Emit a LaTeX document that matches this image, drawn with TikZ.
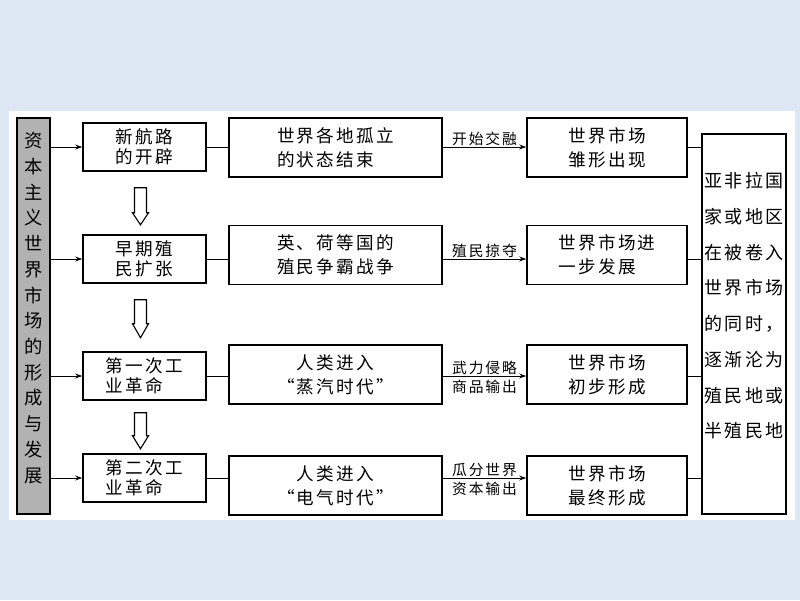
\documentclass[tikz,border=0pt]{standalone}
\usepackage{fontspec}
\setmainfont{Noto Sans CJK SC}[LetterSpace=13]
\usepackage{tikz}
\usetikzlibrary{arrows.meta, calc}

\definecolor{slidebg}{RGB}{221,232,244}

\begin{document}
\begin{tikzpicture}[x=0.025cm, y=-0.025cm,
    % Styles
    topic/.style={rectangle, draw=black, line width=1.1pt, fill=black!30, minimum width=0.825cm, minimum height=9.9cm},
    topictxt/.style={align=center, inner sep=0pt, font=\fontsize{13}{18.3}\selectfont},
    stage/.style={rectangle, draw=black, line width=1.1pt, fill=white, minimum width=3.075cm, minimum height=1.2cm, align=left, inner sep=0pt, font=\fontsize{12.5}{14.4}\selectfont},
    event/.style={rectangle, draw=black, line width=1.1pt, fill=white, minimum width=5.325cm, minimum height=1.475cm, align=left, inner sep=0pt, font=\fontsize{12.5}{17}\selectfont},
    market/.style={rectangle, draw=black, line width=1.1pt, fill=white, minimum width=4cm, minimum height=1.475cm, align=left, inner sep=0pt, font=\fontsize{12.5}{17}\selectfont},
    side/.style={rectangle, draw=black, line width=1.1pt, fill=white, minimum width=2.1cm, minimum height=9.5cm},
    sidetxt/.style={align=left, inner sep=0pt, font=\fontsize{12.8}{25.4}\selectfont},
    tag/.style={inner sep=0.8pt, font=\fontsize{10.5}{13}\selectfont},
    link/.style={line width=0.7pt},
    arrow/.style={line width=0.7pt, -{Stealth[length=5pt, width=3.5pt]}},
    hollow/.style={draw=black, line width=0.8pt, fill=white},
]

% ===== BACKGROUND =====
\fill[slidebg] (0,0) rectangle (800,600);
\fill[white] (9,111) rectangle (795,520);
\useasboundingbox (0,0) rectangle (800,600);

% ===== LEFT TOPIC =====
\node[topic] (topic) at (33.5,316) {};
\node[topictxt] (topictext) at ($(topic.center)+(0,-8)$) {资\\本\\主\\义\\世\\界\\市\\场\\的\\形\\成\\与\\发\\展};

% ===== STAGES =====
\node[stage] (newroute) at (144.5,147) {新航路\\的开辟};
\node[stage] (colony) at (144.5,259) {早期殖\\民扩张};
\node[stage] (ind1) at (144.5,376) {第一次工\\业革命};
\node[stage] (ind2) at (144.5,478) {第二次工\\业革命};

% ===== EVENTS =====
\node[event] (isolate) at (335.5,147.5) {世界各地孤立\\的状态结束};
\node[event] (war) at (335.5,255) {英、荷等国的\\殖民争霸战争};
\node[event, align=center] (steam) at (335.5,374.5) {人类进入\\“蒸汽时代”};
\node[event, align=center] (electric) at (335.5,485.5) {人类进入\\“电气时代”};

% ===== WORLD MARKET =====
\node[market] (embryo) at (607,147.5) {世界市场\\雏形出现};
\node[market] (further) at (607,255) {世界市场进\\一步发展};
\node[market] (initial) at (607,374.5) {世界市场\\初步形成};
\node[market] (final) at (607,485.5) {世界市场\\最终形成};

% ===== RIGHT SIDE =====
\node[side] (side) at (744,324) {};
\node[sidetxt, anchor=north] (sidetext) at ($(side.north)+(0,39)$) {亚非拉国\\家或地区\\在被卷入\\世界市场\\的同时，\\逐渐沦为\\殖民地或\\半殖民地};

% ===== ARROWS =====
% Topic to stages
\draw[arrow] (newroute -| topic.east) -- (newroute.west);
\draw[arrow] (colony -| topic.east) -- (colony.west);
\draw[arrow] (ind1 -| topic.east) -- (ind1.west);
\draw[arrow] (ind2 -| topic.east) -- (ind2.west);

% Stages to events
\draw[link] (newroute.east) -- (newroute -| isolate.west);
\draw[link] (colony.east) -- (colony -| war.west);
\draw[link] (ind1.east) -- (ind1 -| steam.west);
\draw[link] (ind2.east) -- (ind2 -| electric.west);

% Events to world market
\draw[arrow] (newroute -| isolate.east) -- (newroute -| embryo.west) node[tag, midway, above] {开始交融};
\draw[arrow] (colony -| war.east) -- (colony -| further.west) node[tag, midway, above] {殖民掠夺};
\draw[arrow] (ind1 -| steam.east) -- (ind1 -| initial.west) node[tag, midway, above] {武力侵略} node[tag, midway, below, yshift=-2pt] {商品输出};
\draw[arrow] (ind2 -| electric.east) -- (ind2 -| final.west) node[tag, midway, above] {瓜分世界} node[tag, midway, below, yshift=-2pt] {资本输出};

% World market to side
\draw[link] (newroute -| embryo.east) -- (newroute -| side.west);
\draw[link] (colony -| further.east) -- (colony -| side.west);
\draw[link] (ind1 -| initial.east) -- (ind1 -| side.west);
\draw[link] (ind2 -| final.east) -- (ind2 -| side.west);

% Hollow arrows between stages
\draw[hollow] ($(newroute.south)+(-10,16)$) -- ++(12,0) -- ++(0,25) -- ++(2,0) -- ++(-8,12) -- ++(-8,-12) -- ++(2,0) -- cycle;
\draw[hollow] ($(colony.south)+(-10,16)$) -- ++(12,0) -- ++(0,24) -- ++(2,0) -- ++(-8,14) -- ++(-8,-14) -- ++(2,0) -- cycle;
\draw[hollow] ($(ind1.south)+(-10,12)$) -- ++(12,0) -- ++(0,23) -- ++(2,0) -- ++(-8,13) -- ++(-8,-13) -- ++(2,0) -- cycle;

\end{tikzpicture}
\end{document}
